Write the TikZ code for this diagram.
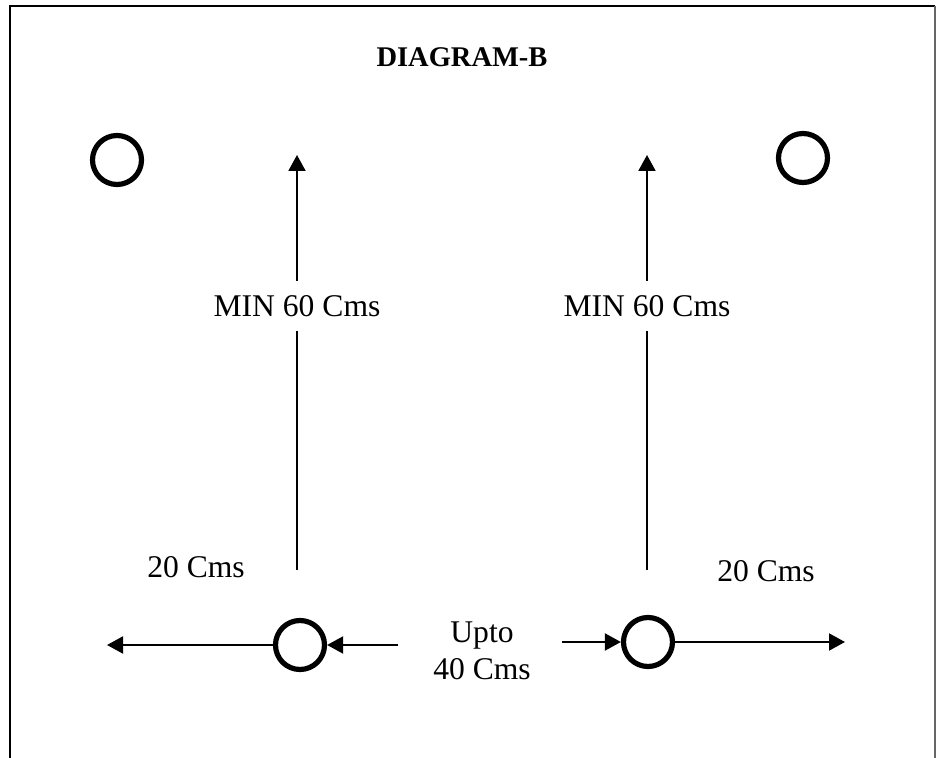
\documentclass[tikz,border=0pt]{standalone}
\usepackage{fontspec}
\setmainfont{Liberation Serif}
\usetikzlibrary{arrows.meta,positioning}

\tikzset{
  hole/.style={draw,circle,line width=2.6pt,minimum size=24.5pt,inner sep=0pt},
  measure/.style={line width=1pt},
  tip/.style={-{Triangle[length=8pt,width=8.5pt]}},
  lbl/.style={font=\fontsize{15.8}{18.5}\selectfont,inner sep=0pt},
  heading/.style={font=\bfseries\fontsize{14.25}{17}\selectfont,inner sep=0pt}
}

\begin{document}
\begin{tikzpicture}[x=0.5pt,y=-0.5pt]
  \useasboundingbox (0,0) rectangle (938,758);
  \draw[line width=1pt] (10,758) -- (10,6) -- (935,6);
  \draw[black!60,line width=0.75pt] (935,6) -- (935,758);
  \node[heading,anchor=base] (title) at (462,67) {DIAGRAM-B};
  \node[hole] (holeTL) at (117,160) {};
  \node[hole] (holeTR) at (803,158) {};
  \node[hole] (holeBL) at (300,645) {};
  \node[hole] (holeBR) at (648,642) {};
  \foreach \s/\x in {L/297,R/647}{
    \coordinate (low\s) at (\x,570);
    \coordinate (top\s) at (\x,155);
    \node[lbl,anchor=base,inner ysep=7pt,text height=11pt,text depth=0pt]
      (min\s) at (\x,317) {MIN 60 Cms};
    \draw[measure] (low\s) -- (min\s);
    \draw[measure,tip] (min\s) -- (top\s);
  }
  \coordinate (endL) at (107,645);
  \coordinate (endR) at (845,642);
  \coordinate (gapL) at (398,645);
  \coordinate (gapR) at (562,642);
  \draw[measure,tip] (holeBL) -- (endL);
  \draw[measure,tip] (gapL) -- (holeBL);
  \draw[measure,tip] (gapR) -- (holeBR);
  \draw[measure,tip] (holeBR) -- (endR);
  \node[lbl,anchor=base] (twentyL) at (196,578) {20 Cms};
  \node[lbl,anchor=base] (twentyR) at (766,582) {20 Cms};
  \node[lbl,align=center] (upto) at (482,651) {Upto\\40 Cms};
\end{tikzpicture}
\end{document}
